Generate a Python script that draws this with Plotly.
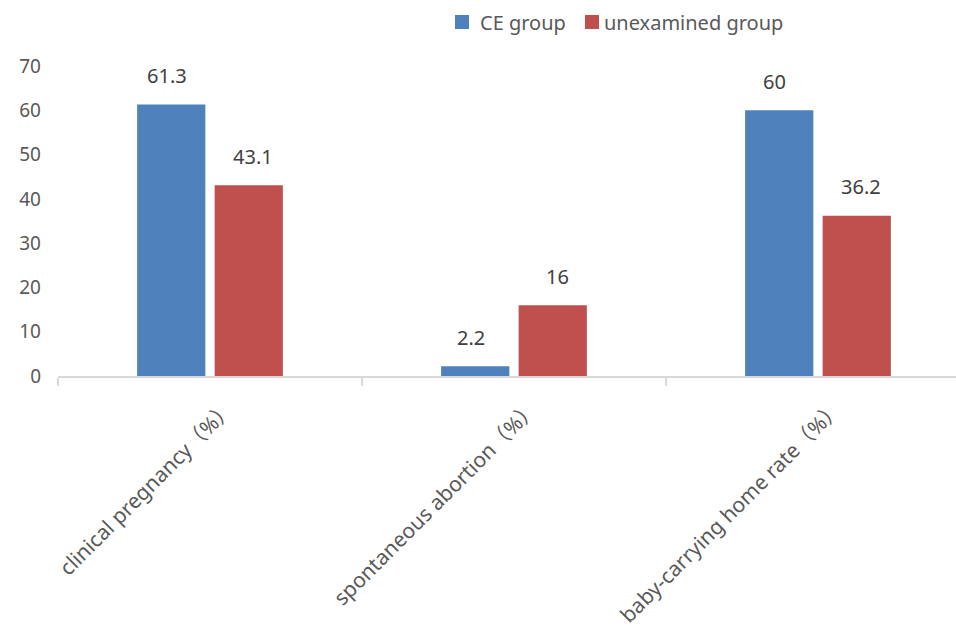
import plotly.graph_objects as go

categories = ["clinical pregnancy（%）", "spontaneous abortion（%）", "baby-carrying home rate（%）"]
ce_group = [61.3, 2.2, 60]
unexamined_group = [43.1, 16, 36.2]
series_names = ["CE group", "unexamined group"]
colors = ["#4f81bd", "#c0504d"]
yticks = [0, 10, 20, 30, 40, 50, 60, 70]

FONT = "Noto Sans, Noto Sans CJK SC, sans-serif"
TXT = "#595959"

W, H = 956, 635
ML, MR, MT, MB = 58, 0, 66, 259
PW, PH = W - ML - MR, H - MT - MB


def px_x(p):
    return (p - ML) / PW


def px_y(p):
    return (H - MB - p) / PH


fig = go.Figure()
for name, vals, col in zip(series_names, [ce_group, unexamined_group], colors):
    fig.add_trace(go.Bar(x=categories, y=vals, name=name, showlegend=False,
                         marker=dict(color=col, line=dict(width=0))))

# data labels
offsets = [-0.143, 0.143]
for vals, off in zip([ce_group, unexamined_group], offsets):
    for i, v in enumerate(vals):
        fig.add_annotation(x=i + off, y=v, xref="x", yref="y", text=f"{v:g}", showarrow=False,
                           yshift=29, font=dict(family=FONT, size=20, color="#404040"))

# legend (manual, Excel style)
leg_sq_x = [455, 585]
leg_txt_x = [478, 602]
for name, col, sx, tx in zip(series_names, colors, leg_sq_x, leg_txt_x):
    fig.add_shape(type="rect", xref="paper", yref="paper",
                  x0=px_x(sx), x1=px_x(sx + 14), y0=px_y(29), y1=px_y(15),
                  fillcolor=col, line=dict(width=0))
    fig.add_annotation(xref="paper", yref="paper", x=px_x(tx), y=px_y(22), text=name,
                       showarrow=False, xanchor="left", yanchor="middle",
                       font=dict(family=FONT, size=20, color=TXT))

fig.update_layout(
    width=W, height=H,
    margin=dict(l=ML, r=MR, t=MT, b=MB),
    plot_bgcolor="white", paper_bgcolor="white",
    barmode="group", bargap=0.49, bargroupgap=0.12,
    font=dict(family=FONT, size=18, color=TXT),
    showlegend=False,
)
fig.update_xaxes(
    type="category", range=[-0.5, 2.454], showline=True, linecolor="#d9d9d9", linewidth=1.5,
    ticks="outside", tickson="boundaries", ticklen=8, tickcolor="#d9d9d9", tickwidth=1.5,
    tickangle=-45, tickfont=dict(size=21, color=TXT), showgrid=False,
    ticklabelshift=18, ticklabelstandoff=10,
)
fig.update_yaxes(
    range=[0, 70], tickvals=yticks, showgrid=False, showline=False, zeroline=False,
    tickfont=dict(size=19, color=TXT), ticklabelstandoff=16,
)

fig.write_html("out.html")
